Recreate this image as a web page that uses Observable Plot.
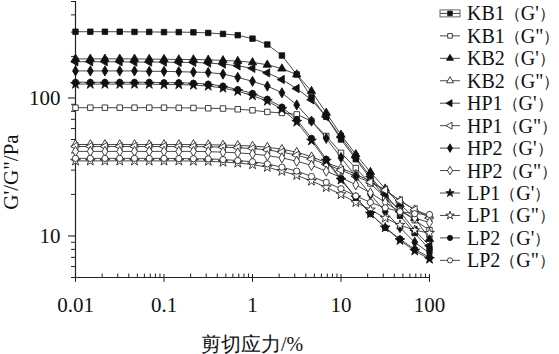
<!DOCTYPE html>
<html><head><meta charset="utf-8">
<script src="https://cdn.jsdelivr.net/npm/d3@7"></script>
<script src="https://cdn.jsdelivr.net/npm/@observablehq/plot@0.6"></script>
<style>
body{margin:0;background:#fff;}
#wrap{position:relative;width:559px;height:354px;overflow:hidden;font-family:"Liberation Serif","Times New Roman",serif;}
#wrap svg{position:absolute;left:0;top:0;}
</style></head><body><div id="wrap"></div>
<script>
// ---- data ----
const strain = [0.01,0.0147,0.0215,0.0316,0.0464,0.0681,0.1,0.147,0.215,0.316,0.464,0.681,1,1.47,2.15,3.16,4.64,6.81,10,14.7,21.5,31.6,46.4,68.1,100];
const seriesNames = ["KB1（G'）","KB1（G\"）","KB2（G'）","KB2（G\"）","HP1（G'）","HP1（G\"）","HP2（G'）","HP2（G\"）","LP1（G'）","LP1（G\"）","LP2（G'）","LP2（G\"）"];
const KB1_Gp  = [302,302,302,302,301,301,300,300,299,296,291,285,269,244,203,148,101,73,50,36,26,19,14,10.5,8];
const KB1_Gpp = [85,85,85,85,85,85,85,84.8,84.6,84.2,83.8,82.8,81.4,79.2,77.9,76,68,53,40,31,24,19,15.5,13,11];
const KB2_Gp  = [192,192,192,192,192,191,191,190,190,189,187,185,181,174,163,148,112,78,54,39,29,22,17,13.5,9.5];
const KB2_Gpp = [46,46,46,46,46,46,46,46,46,45.8,45.6,45.3,44.8,44,42.5,40.5,37.5,34,31,28,25,21.5,18,15.5,14];
const HP1_Gp  = [183,183,183,183,182,182,182,181,181,179,176,171,164,152,136,117,97,73,52,37,27,20,15,11,8.5];
const HP1_Gpp = [44.5,44.5,44.5,44.5,44.5,44.5,44.5,44.4,44.4,44.3,44,43.6,43,42,40.5,38.5,36,33,30,27,24.5,21.5,18,15.5,13.5];
const HP2_Gp  = [157,157,157,157,157,156,156,155,154,153,149,141,132,122,109,89,68,51,37,27,20,15,11.5,9,7.5];
const HP2_Gpp = [41,41,41,41,41,41,41,41,41,40.8,40.5,40,39.3,38.2,36.8,34.8,32.5,29.5,26.5,23.5,20.5,17.5,15,13.5,12.5];
const LP1_Gp  = [126,126,126,126,126,126,125,125,124,122,118,112,104,95,83,67,49,35,25.5,19,14.5,11.5,9.3,7.8,6.8];
const LP1_Gpp = [35,35,35,35,35,35,35,35,34.9,34.8,34.3,33.8,32.9,31.5,29.5,27.5,25,22.5,20,17.5,15.5,13.5,12,11,10.5];
const LP2_Gp  = [130,130,130,130,130,130,129,129,128,126,122,115,108,98,86,70,51,36,26,19,14.5,11.5,9.5,8,7];
const LP2_Gpp = [36.5,36.5,36.5,36.5,36.5,36.5,36.5,36.4,36.3,36.2,35.8,35.2,34.5,33.3,31.5,29.5,27,24.5,22,19.5,17.5,16,15,14.5,14.3];
const xTicks = [0.01,0.1,1,10,100];
const yTicks = [10,100];
const xDomain = [0.01,100];
const yDomain = [5,500];
const xTitle = "剪切应力/%";
const yTitle = "G'/G\"/Pa";

// ---- symbols ----
const triLeft = {draw(context, size){
  const y = -Math.sqrt(size / (Math.sqrt(3) * 3));
  context.moveTo(y * 2, 0);
  context.lineTo(-y, -Math.sqrt(3) * y);
  context.lineTo(-y, Math.sqrt(3) * y);
  context.closePath();
}};
const symFor = [d3.symbolSquare,d3.symbolSquare,d3.symbolTriangle,d3.symbolTriangle,triLeft,triLeft,d3.symbolDiamond,d3.symbolDiamond,d3.symbolStar,d3.symbolStar,d3.symbolCircle,d3.symbolCircle];
const allSeries = [KB1_Gp,KB1_Gpp,KB2_Gp,KB2_Gpp,HP1_Gp,HP1_Gpp,HP2_Gp,HP2_Gpp,LP1_Gp,LP1_Gpp,LP2_Gp,LP2_Gpp];

const data = [];
allSeries.forEach((vals, i) => vals.forEach((v, k) => data.push({name: seriesNames[i], idx: i, x: strain[k], y: v, filled: i % 2 === 0})));

const minor = (dom) => {
  const out = [];
  for (let e = Math.floor(Math.log10(dom[0])) - 1; e <= Math.log10(dom[1]); e++) {
    for (let m = 2; m <= 9; m++) { const v = +(m * Math.pow(10, e)).toPrecision(6); if (v >= dom[0] && v <= dom[1]) out.push(v); }
  }
  return out;
};
const xMinor = minor(xDomain);
const yMinor = minor(yDomain);

const FONT = "Liberation Serif, Times New Roman, serif";
const chart = Plot.plot({
  width: 559, height: 354,
  marginLeft: 75, marginRight: 130, marginTop: 1, marginBottom: 77,
  style: {fontFamily: FONT, fontSize: "21px", color: "#111", background: "transparent"},
  x: {type: "log", domain: xDomain, label: null},
  y: {type: "log", domain: yDomain, label: null},
  symbol: {domain: seriesNames, range: symFor},
  marks: [
    Plot.ruleY([yDomain[0]], {stroke: "#222", strokeWidth: 1.2}),
    Plot.ruleX([xDomain[0]], {stroke: "#222", strokeWidth: 1.2}),
    Plot.axisX(xMinor, {tickSize: 3.5, insetBottom: 3.5, tickFormat: () => "", stroke: "#222"}),
    Plot.axisX(xTicks, {tickSize: 8, insetBottom: 3, tickFormat: () => "", stroke: "#222"}),
    Plot.axisX(xTicks, {tickSize: 0, tickPadding: 20, tickFormat: d => String(d), fontSize: 21, fill: "#111"}),
    Plot.axisY(yMinor, {tickSize: 4, tickFormat: () => "", stroke: "#222"}),
    Plot.axisY(yTicks, {tickSize: 7, tickPadding: 8, tickFormat: d => String(d), fontSize: 21, fill: "#111"}),
    Plot.line(data, {x: "x", y: "y", z: "name", stroke: "#333", strokeWidth: 0.9}),
    Plot.dot(data, {x: "x", y: "y", symbol: "name", r: 3.1, fill: d => d.filled ? "#111" : "#fff", stroke: "#111", strokeWidth: 0.8})
  ]
});

const wrap = document.getElementById("wrap");
wrap.appendChild(chart);
const svg = d3.select(chart);

// y title
svg.append("text").attr("transform", "translate(11,172) rotate(-90)")
  .attr("text-anchor", "middle").attr("dominant-baseline", "central")
  .attr("font-family", FONT).attr("font-size", 21).attr("fill", "#111").text(yTitle);
// x title
svg.append("text").attr("x", 252).attr("y", 344)
  .attr("text-anchor", "middle").attr("dominant-baseline", "central")
  .attr("font-family", FONT).attr("font-size", 20).attr("fill", "#111").text(xTitle);

// legend
const lg = svg.append("g").attr("text-anchor", "start");
seriesNames.forEach((name, i) => {
  const yy = 13.4 + 22.45 * i;
  const g = lg.append("g").attr("transform", `translate(0,${yy})`);
  if (i === 0) g.append("rect").attr("x", 440).attr("y", -3.5).attr("width", 20).attr("height", 7).attr("fill", "none").attr("stroke", "#555").attr("stroke-width", 0.9);
  g.append("line").attr("x1", 440).attr("x2", 460).attr("y1", 0).attr("y2", 0).attr("stroke", "#333").attr("stroke-width", 0.9);
  g.append("path").attr("transform", "translate(450,0)")
    .attr("d", d3.symbol(symFor[i], Math.PI * 2.6 * 2.6)())
    .attr("fill", i % 2 === 0 ? "#111" : "#fff").attr("stroke", "#111").attr("stroke-width", 0.8);
  const t = g.append("text").attr("x", 467).attr("y", 0).attr("dominant-baseline", "central")
    .attr("text-anchor", "start")
    .attr("font-family", FONT).attr("font-size", 20).attr("fill", "#111");
  const m = name.match(/^(.*?)（(.*)）$/);
  t.append("tspan").text(m[1]);
  t.append("tspan").attr("font-size", 16).text("（");
  t.append("tspan").text(m[2]);
  t.append("tspan").attr("font-size", 16).text("）");
});
</script></body></html>
